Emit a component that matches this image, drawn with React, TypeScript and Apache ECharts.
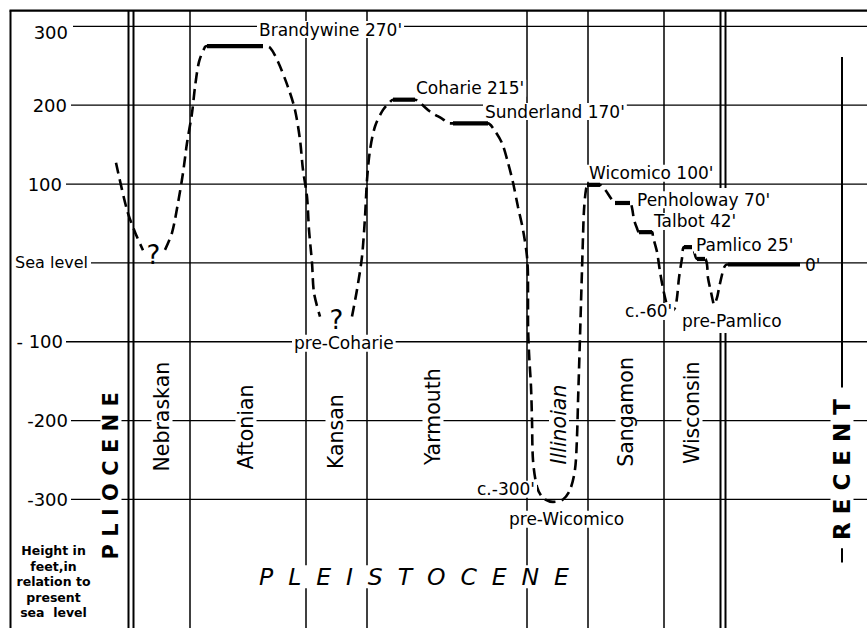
import React, { useEffect, useRef } from "react";
import * as echarts from "echarts";

// ---------- data ----------
// vertical scale: feet relative to present sea level
const yTicks = [300, 200, 100, 0, -100, -200, -300];
const yTickLabels = ["300", "200", "100", "Sea level", "- 100", "-200", "-300"];

// horizontal scale: relative time position (arbitrary units, older -> younger)
const stageNames = ["Nebraskan", "Aftonian", "Kansan", "Yarmouth", "Illinoian", "Sangamon", "Wisconsin"];
const stageLabelPos = [162, 246, 336, 433, 559, 626, 692];
const stageBoundaries = [190, 306, 367, 527, 588, 664];
const epochBoundaries = [131, 723]; // Pliocene | Pleistocene | Recent
const epochNames = ["PLIOCENE", "PLEISTOCENE", "RECENT"];

// marine terraces (shore-line stands)
const terraceNames = ["Brandywine", "Coharie", "Sunderland", "Wicomico", "Penholoway", "Talbot", "Pamlico"];
const terraceElevations = [270, 215, 170, 100, 70, 42, 25];
const terraceStart = [207, 393, 453, 587, 615, 639, 684, 697, 728];
const terraceEnd = [263, 415, 488, 600, 630, 652, 692, 705, 800];
const terraceLevel = [275, 207, 177, 99, 76, 39, 20, 5, -2];

// low stands
const lowStandNames = ["pre-Coharie", "pre-Wicomico", "pre-Pamlico"];
const lowStandDepths = [-300, -60];

// sea-level curve (time position, feet)
const plioceneCurve: number[][] = [[116, 127], [127, 67], [135, 39], [143, 16]];
const aftonianCurve: number[][] = [
  [165, 16.5], [172, 38], [178, 76], [183, 114], [187, 152], [192, 190], [195, 223], [199, 255],
  [205, 274], [207, 275], [263, 275], [270, 273], [278, 255], [288, 223], [295, 194], [300, 156],
  [303, 118], [307, 84], [309, 42], [312, 0], [314, -38], [320, -68],
];
const laterCurve: number[][] = [
  [352, -68], [357, -34], [362, 8], [365, 58], [367, 105], [370, 143], [375, 173], [383, 194],
  [390, 204], [393, 207], [415, 207], [420, 203], [430, 192], [442, 183], [450, 177], [453, 177],
  [488, 177], [493, 171], [502, 152], [508, 127], [513, 102], [518, 71], [523, 42], [527, 8],
  [528, -22], [528, -72], [529, -114], [531, -157], [532, -199], [533, -250], [537, -284],
  [543, -298], [553, -303], [563, -300], [570, -288], [575, -262], [577, -221], [578, -177],
  [579, -136], [580, -94], [581, -51], [582, -9], [583, 33], [584, 67], [586, 93], [588, 99],
  [600, 99], [605, 93], [612, 80], [615, 76], [630, 76], [632, 70], [634, 55], [637, 44],
  [639, 39], [652, 39], [653, 33], [657, 14], [660, -11], [663, -32], [666, -49], [668, -57],
  [671, -62], [675, -57], [677, -44], [679, -19], [682, 6], [684, 20], [692, 20], [694, 15],
  [697, 5], [705, 5], [707, -2], [708, -19], [711, -37], [713, -49], [714, -53], [717, -44],
  [719, -32], [722, -15], [724, -6], [727, -2], [800, -2],
];

// ---------- drawing ----------
const X_MAX = 867;
const Y_TOP = 322;
const Y_BOTTOM = -463;
const FONT = "DejaVu Sans";

type Seg = { x0: number; v0: number; x1: number; v1: number; w: number };
const frame: Seg[] = [];
frame.push({ x0: 9.5, v0: 320, x1: X_MAX, v1: 320, w: 2.2 });
frame.push({ x0: 10.5, v0: 320, x1: 10.5, v1: Y_BOTTOM, w: 2 });
const gridStart = [73, 71, 66, 91, 66, 71, 71];
yTicks.forEach((t, i) => frame.push({ x0: gridStart[i], v0: t, x1: X_MAX, v1: t, w: 1.3 }));
[-2.5, 2.5].forEach((d) => frame.push({ x0: epochBoundaries[0] + d, v0: 320, x1: epochBoundaries[0] + d, v1: Y_BOTTOM, w: 2 }));
[-2.5, 2.5].forEach((d) => {
  frame.push({ x0: epochBoundaries[1] + d, v0: 320, x1: epochBoundaries[1] + d, v1: 95, w: 2 });
  frame.push({ x0: epochBoundaries[1] + d, v0: -89, x1: epochBoundaries[1] + d, v1: Y_BOTTOM, w: 2 });
});
stageBoundaries.forEach((b) => frame.push({ x0: b, v0: 320, x1: b, v1: Y_BOTTOM, w: 1.5 }));
frame.push({ x0: 842, v0: 261, x1: 842, v1: -158, w: 2 });
frame.push({ x0: 842, v0: -362, x1: 842, v1: -380, w: 2 });

type Ann = {
  x: number; v: number; text: string; size: number;
  align?: "left" | "center" | "right"; rot?: boolean; bg?: boolean;
  italic?: boolean; bold?: boolean; lineHeight?: number;
};
const ann: Ann[] = [];
// y tick labels
const tickLabelRight = [68, 67, 62, 88, 63, 68, 68];
yTicks.forEach((t, i) =>
  ann.push({ x: tickLabelRight[i], v: i === 0 ? t - 8 : t, text: yTickLabels[i], size: i === 3 ? 16 : 18, align: "right" })
);
// terrace labels
const terraceLabelPos = [[257, 296], [414, 221.6], [483, 192], [587, 113.8], [635, 80], [652, 52.6], [694, 22.8]];
terraceNames.forEach((n, i) =>
  ann.push({ x: terraceLabelPos[i][0], v: terraceLabelPos[i][1], text: `${n} ${terraceElevations[i]}'`, size: 17, bg: true })
);
ann.push({ x: 805, v: -2.5, text: "0'", size: 17 });
// low stands
ann.push({ x: 292, v: -102, text: lowStandNames[0], size: 17, bg: true });
ann.push({ x: 475, v: -287, text: `c.${lowStandDepths[0]}'`, size: 17, bg: true });
ann.push({ x: 507, v: -325, text: lowStandNames[1], size: 17, bg: true });
ann.push({ x: 623, v: -61.5, text: `c.${lowStandDepths[1]}'`, size: 17, bg: true });
ann.push({ x: 680, v: -73.6, text: lowStandNames[2], size: 17, bg: true });
ann.push({ x: 153.5, v: 10, text: "?", size: 26, align: "center" });
ann.push({ x: 336.5, v: -72, text: "?", size: 26, align: "center" });
// stages
const stageLabelV = [-195, -208, -214, -195, -205, -189, -190];
stageNames.forEach((n, i) =>
  ann.push({ x: stageLabelPos[i], v: stageLabelV[i], text: n, size: 20.5, align: "center", rot: true, bg: true, italic: n === "Illinoian" })
);
// epochs
ann.push({ x: 111, v: -270, text: epochNames[0].split("").join(" "), size: 21, align: "center", rot: true, bg: true, bold: true });
ann.push({ x: 414, v: -398, text: epochNames[1].split("").join("  "), size: 23.5, align: "center", bg: true, italic: true });
ann.push({ x: 842, v: -262, text: epochNames[2].split("").join(" "), size: 23, align: "center", rot: true, bg: true, bold: true });
ann.push({
  x: 53.5, v: -404.6, text: "Height in\nfeet,in\nrelation to\npresent\nsea  level",
  size: 12.5, align: "center", bold: true, lineHeight: 15.5,
});

const curveSeries = (name: string, data: number[][]) => ({
  name,
  type: "line",
  data,
  z: 2,
  smooth: 0.3,
  symbol: "none",
  silent: true,
  lineStyle: { color: "#000", width: 2.6, type: [11, 6] },
});

const option: any = {
  animation: false,
  backgroundColor: "#fff",
  grid: { left: 0, right: 0, top: 9, bottom: 0, containLabel: false },
  xAxis: { type: "value", min: 0, max: X_MAX, show: false },
  yAxis: { type: "value", min: Y_BOTTOM, max: Y_TOP, show: false },
  series: [
    {
      name: "frame",
      type: "custom",
      z: 1,
      silent: true,
      encode: { x: [0, 2], y: [1, 3] },
      data: frame.map((s) => [s.x0, s.v0, s.x1, s.v1]),
      renderItem: (params: any, api: any) => {
        const s = frame[params.dataIndex];
        const a = api.coord([s.x0, s.v0]);
        const b = api.coord([s.x1, s.v1]);
        return {
          type: "line",
          shape: { x1: a[0], y1: a[1], x2: b[0], y2: b[1] },
          style: { stroke: "#000", lineWidth: s.w },
        };
      },
    },
    curveSeries("Pliocene", plioceneCurve),
    curveSeries("Nebraskan-Kansan", aftonianCurve),
    curveSeries("Kansan-Recent", laterCurve),
    {
      name: "terraces",
      type: "custom",
      z: 3,
      silent: true,
      encode: { x: [0, 1], y: 2 },
      data: terraceStart.map((s, i) => [s, terraceEnd[i], terraceLevel[i]]),
      renderItem: (params: any, api: any) => {
        const i = params.dataIndex;
        const a = api.coord([terraceStart[i], terraceLevel[i]]);
        const b = api.coord([terraceEnd[i], terraceLevel[i]]);
        return {
          type: "line",
          shape: { x1: a[0], y1: a[1], x2: b[0], y2: b[1] },
          style: { stroke: "#000", lineWidth: 4.2 },
        };
      },
    },
    {
      name: "labels",
      type: "custom",
      z: 4,
      silent: true,
      encode: { x: 0, y: 1 },
      data: ann.map((a) => [a.x, a.v]),
      renderItem: (params: any, api: any) => {
        const a = ann[params.dataIndex];
        const p = api.coord([a.x, a.v]);
        const style: any = {
          text: a.text,
          fill: "#000",
          fontSize: a.size,
          fontFamily: FONT,
          fontWeight: a.bold ? "bold" : "normal",
          fontStyle: a.italic ? "italic" : "normal",
          align: a.align || "left",
          verticalAlign: "middle",
        };
        if (a.lineHeight) style.lineHeight = a.lineHeight;
        if (a.bg) {
          style.backgroundColor = "#fff";
          style.padding = [0, 2];
        }
        return {
          type: "text",
          x: p[0],
          y: p[1],
          rotation: a.rot ? Math.PI / 2 : 0,
          style,
        };
      },
    },
  ],
};

export default function App() {
  const ref = useRef<HTMLDivElement>(null);
  useEffect(() => {
    if (!ref.current) return;
    const chart = echarts.init(ref.current, undefined, { renderer: "svg" });
    chart.setOption(option);
    return () => chart.dispose();
  }, []);
  return (
    <div
      ref={ref}
      style={{ position: "fixed", left: 0, top: 0, width: 867, height: 628, background: "#fff" }}
    />
  );
}
